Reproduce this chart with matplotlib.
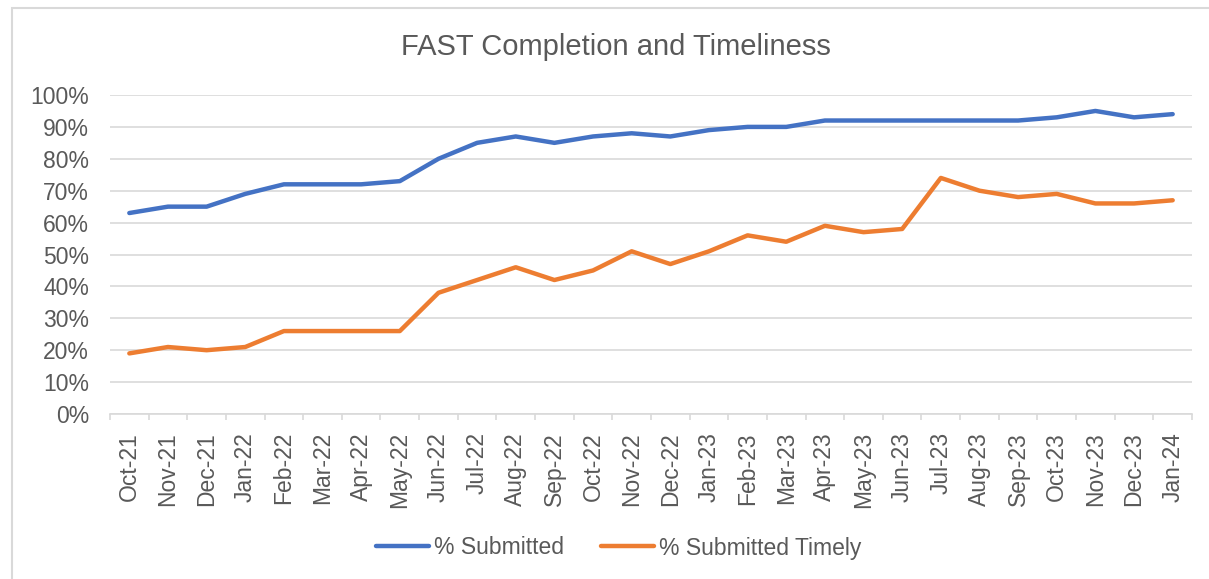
import matplotlib
matplotlib.use("Agg")
import matplotlib.pyplot as plt
from matplotlib.patches import Rectangle
from matplotlib.ticker import FixedLocator

months = ["Oct-21", "Nov-21", "Dec-21", "Jan-22", "Feb-22", "Mar-22", "Apr-22", "May-22",
          "Jun-22", "Jul-22", "Aug-22", "Sep-22", "Oct-22", "Nov-22", "Dec-22", "Jan-23",
          "Feb-23", "Mar-23", "Apr-23", "May-23", "Jun-23", "Jul-23", "Aug-23", "Sep-23",
          "Oct-23", "Nov-23", "Dec-23", "Jan-24"]
submitted = [63, 65, 65, 69, 72, 72, 72, 73, 80, 85, 87, 85, 87, 88, 87, 89,
             90, 90, 92, 92, 92, 92, 92, 92, 93, 95, 93, 94]
timely = [19, 21, 20, 21, 26, 26, 26, 26, 38, 42, 46, 42, 45, 51, 47, 51,
          56, 54, 59, 57, 58, 74, 70, 68, 69, 66, 66, 67]
yticks = list(range(0, 101, 10))

plt.rcParams['font.family'] = ['Liberation Sans', 'DejaVu Sans']
txt = '#595959'
fs = 16.5

W, H = 1209, 579
fig = plt.figure(figsize=(W / 100, H / 100), dpi=100)
fig.patches.append(Rectangle((12 / W, -0.05), 1.1, 1.05 - 8 / H, transform=fig.transFigure,
                             fill=False, edgecolor='#D9D9D9', linewidth=1.5))
ax = fig.add_axes([110 / W, 1 - 414 / H, (1192 - 110) / W, (414 - 95) / H])

x = list(range(len(months)))
ax.plot(x, submitted, color='#4472C4', linewidth=3.2, solid_capstyle='round',
        solid_joinstyle='round', label='% Submitted')
ax.plot(x, timely, color='#ED7D31', linewidth=3.2, solid_capstyle='round',
        solid_joinstyle='round', label='% Submitted Timely')

ax.set_xlim(-0.5, len(months) - 0.5)
ax.set_ylim(0, 100)
ax.set_yticks(yticks)
ax.set_yticklabels([f"{v}%" for v in yticks], color=txt, fontsize=fs)
ax.set_xticks(x)
ax.set_xticklabels(months, rotation=90, color=txt, fontsize=fs)
ax.xaxis.set_minor_locator(FixedLocator([i - 0.5 for i in range(len(months) + 1)]))
ax.tick_params(axis='x', which='major', length=0, pad=13)
ax.tick_params(axis='x', which='minor', length=4.5, color='#D9D9D9', width=1.2)
ax.tick_params(axis='y', length=0, pad=15)
ax.grid(axis='y', color='#D9D9D9', linewidth=1.2)
ax.set_axisbelow(True)
for s in ['top', 'right', 'left']:
    ax.spines[s].set_visible(False)
ax.spines['bottom'].set_color('#D9D9D9')
ax.spines['bottom'].set_linewidth(1.2)

fig.text(615.5 / W, 1 - 47 / H, "FAST Completion and Timeliness", ha='center', va='center',
         fontsize=21, color=txt)
fig.legend(loc='center', bbox_to_anchor=(618.5 / W, 1 - 548 / H), ncol=2, frameon=False,
           fontsize=fs, labelcolor=txt, handlelength=2.35, handletextpad=0.2,
           columnspacing=1.6)

fig.savefig("out.png", dpi=100)
